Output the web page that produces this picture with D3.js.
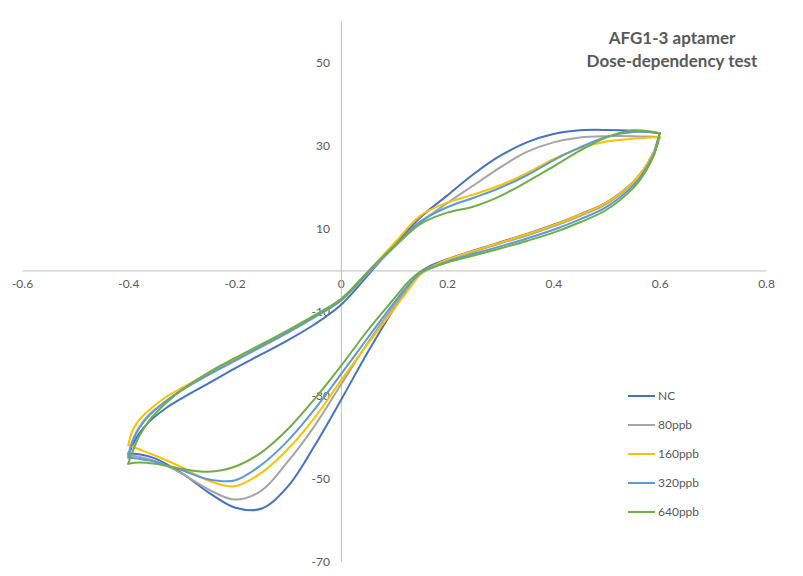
<!DOCTYPE html>
<html>
<head>
<meta charset="utf-8">
<script src="https://cdn.jsdelivr.net/npm/d3@7"></script>
<style>
  html, body { margin: 0; padding: 0; background: #ffffff; }
  svg { display: block; }
  text { font-family: Lato, "Open Sans", sans-serif; }
</style>
</head>
<body>
<svg id="chart" width="803" height="576"></svg>
<script>
// ---------------- data ----------------
const seriesNames = ["NC", "80ppb", "160ppb", "320ppb", "640ppb"];
const seriesColors = ["#4472C4", "#A5A5A5", "#FFC000", "#5B9BD5", "#70AD47"];

const xTicks = [-0.6, -0.4, -0.2, 0, 0.2, 0.4, 0.6, 0.8];
const xTickLabels = ["-0.6", "-0.4", "-0.2", "0", "0.2", "0.4", "0.6", "0.8"];
const yTicks = [-70, -50, -30, -10, 10, 30, 50];
const yTickLabels = ["-70", "-50", "-30", "-10", "10", "30", "50"];

const titleLines = ["AFG1-3 aptamer", "Dose-dependency test"];

// forward scan potentials (V)
const forwardE = [-0.4, -0.395, -0.39, -0.38, -0.36, -0.33, -0.3, -0.25, -0.2, -0.15, -0.1, -0.05,
                  0, 0.05, 0.1, 0.15, 0.2, 0.25, 0.3, 0.35, 0.4, 0.45, 0.5, 0.55, 0.58, 0.6];
// reverse scan potentials (V)
const reverseE = [0.6, 0.595, 0.59, 0.58, 0.57, 0.55, 0.5, 0.45, 0.4, 0.35, 0.3, 0.25, 0.2, 0.17,
                  0.15, 0.125, 0.1, 0.05, 0, -0.05, -0.1, -0.15, -0.2, -0.25, -0.3, -0.35, -0.38, -0.4];

// currents, forward scan
const ncForward    = [-44, -43, -41.5, -39.3, -36.3, -33.2, -30.8, -27.2, -23.6, -20.2, -16.8, -13,
                      -8.3, -1.3, 6, 12.8, 18, 23.2, 27.6, 30.8, 32.8, 33.7, 33.8, 33.6, 33.3, 33];
const ppb80Forward = [-44.5, -42, -40.3, -37.8, -34.6, -31.5, -28.9, -25.2, -21.8, -18.4, -15, -11.3,
                      -7.3, -0.8, 5.5, 11.5, 16.2, 20.5, 24.8, 28.5, 30.8, 32, 32.3, 32.3, 32.2, 32];
const ppb160Forward= [-42, -39.5, -38, -36, -33.5, -30.5, -28.3, -24.8, -21.5, -18.2, -14.8, -11.2,
                      -7.2, -0.5, 6.5, 13.2, 16.3, 18.3, 20.5, 23.4, 26.8, 29.4, 31, 31.7, 32, 32];
const ppb320Forward= [-45, -42.3, -40.5, -38, -34.8, -31.5, -28.8, -25.1, -21.7, -18.3, -14.9, -11.2,
                      -7.2, -0.6, 5.8, 11.8, 15.2, 17.5, 19.9, 22.9, 26.5, 29.6, 32.1, 33.3, 33.3, 33];
const ppb640Forward= [-46.5, -44.5, -43, -40, -36, -32, -28.8, -24.6, -21.1, -17.8, -14.4, -10.8,
                      -6.9, -0.4, 5.9, 11.2, 13.9, 15.4, 17.9, 21.3, 25, 28.8, 32, 33.7, 33.5, 33];

// currents, reverse scan
const ncReverse    = [33, 30.8, 28.8, 26.4, 24.4, 21.3, 16.4, 13.5, 11, 8.8, 6.8, 4.8, 2.7, 1.2,
                      -0.3, -4.5, -9.2, -19.8, -31.2, -42.3, -52, -57.3, -57, -53.3, -48.7, -45.2, -44.2, -44];
const ppb80Reverse = [32, 30, 28.3, 26, 24.1, 21, 16, 13.1, 10.6, 8.4, 6.5, 4.5, 2.5, 0.9,
                      -0.5, -4.3, -8.5, -17.5, -27.5, -37.5, -46, -53, -55.1, -52.6, -48.8, -45.8, -44.8, -44.5];
const ppb160Reverse= [32, 30.2, 28.6, 26.3, 24.4, 21.3, 16.3, 13.4, 10.9, 8.7, 6.7, 4.7, 2.6, 0.7,
                      -1, -5, -9.3, -17.8, -26.5, -35.5, -43, -48.7, -51.9, -50.5, -47.3, -44.5, -43, -42];
const ppb320Reverse= [33, 30.4, 28.3, 25.8, 23.7, 20.4, 15.3, 12.3, 9.8, 7.7, 5.8, 4, 2.1, 0.6,
                      -0.6, -3.8, -7.8, -16.3, -25, -33.5, -41, -46.8, -50.5, -50.2, -48, -46, -45.3, -45];
const ppb640Reverse= [33, 30.2, 28, 25.3, 23.1, 19.8, 14.6, 11.6, 9.1, 7.1, 5.3, 3.6, 1.9, 0.6,
                      -0.3, -3, -6.8, -14.5, -23, -31, -38.2, -43.8, -47.2, -48.4, -47.7, -46.5, -46.2, -46.5];

const forwardSets = [ncForward, ppb80Forward, ppb160Forward, ppb320Forward, ppb640Forward];
const reverseSets = [ncReverse, ppb80Reverse, ppb160Reverse, ppb320Reverse, ppb640Reverse];

// ---------------- drawing ----------------
const svg = d3.select("#chart");
const W = 803, H = 576;

const x = d3.scaleLinear().domain([-0.6, 0.8]).range([22, 766]);
const y = d3.scaleLinear().domain([-70, 60]).range([561.5, 21]);

svg.append("rect").attr("width", W).attr("height", H).attr("fill", "#fff");

const axisColor = "#BFBFBF";
const labelColor = "#595959";

// x axis line through y = 0
const gx = svg.append("g").attr("transform", `translate(0,${y(0)})`);
gx.call(d3.axisBottom(x).tickValues(xTicks).tickSize(0).tickPadding(9)
      .tickFormat((d, i) => xTickLabels[i]));
gx.select(".domain").attr("stroke", axisColor).attr("stroke-width", 1);
gx.selectAll("text").attr("fill", labelColor).attr("font-size", 12)
  .attr("font-family", "Lato, 'Open Sans', sans-serif");

// y axis line through x = 0
const gy = svg.append("g").attr("transform", `translate(${x(0)},0)`);
gy.call(d3.axisLeft(y).tickValues(yTicks).tickSize(0).tickPadding(11)
      .tickFormat((d, i) => yTickLabels[i]));
gy.select(".domain").attr("stroke", axisColor).attr("stroke-width", 1);
gy.selectAll("text").attr("fill", labelColor).attr("font-size", 12)
  .attr("font-family", "Lato, 'Open Sans', sans-serif");

// curves
const line = d3.line()
  .x(d => x(d[0]))
  .y(d => y(d[1]))
  .curve(d3.curveCatmullRom.alpha(0.5));

const plot = svg.append("g");
seriesNames.forEach((name, i) => {
  const fwd = forwardE.map((e, k) => [e, forwardSets[i][k]]);
  const rev = reverseE.map((e, k) => [e, reverseSets[i][k]]);
  [fwd, rev].forEach(pts => {
    plot.append("path")
      .attr("d", line(pts))
      .attr("fill", "none")
      .attr("stroke", seriesColors[i])
      .attr("stroke-width", 2)
      .attr("stroke-linejoin", "round")
      .attr("stroke-linecap", "round");
  });
});

// title
svg.append("text")
  .attr("x", 672).attr("y", 44)
  .attr("text-anchor", "middle")
  .attr("font-size", 17).attr("font-weight", "bold")
  .attr("fill", labelColor)
  .text(titleLines[0]);
svg.append("text")
  .attr("x", 672).attr("y", 67)
  .attr("text-anchor", "middle")
  .attr("font-size", 17).attr("font-weight", "bold")
  .attr("fill", labelColor)
  .text(titleLines[1]);

// legend
const legend = svg.append("g");
seriesNames.forEach((name, i) => {
  const ly = 396 + i * 29;
  legend.append("line")
    .attr("x1", 628).attr("x2", 655)
    .attr("y1", ly).attr("y2", ly)
    .attr("stroke", seriesColors[i]).attr("stroke-width", 2);
  legend.append("text")
    .attr("x", 658).attr("y", ly + 4)
    .attr("font-size", 12).attr("fill", labelColor)
    .text(name);
});
</script>
</body>
</html>
